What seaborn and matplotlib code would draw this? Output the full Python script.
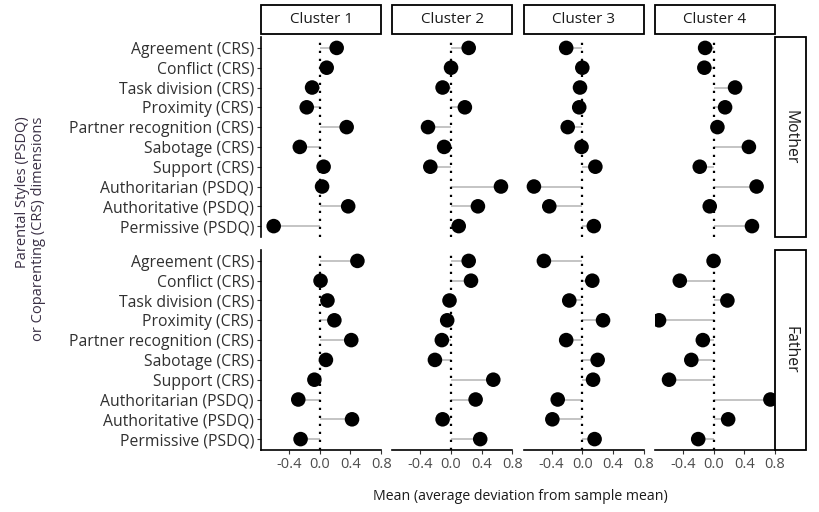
import pandas as pd
import matplotlib.pyplot as plt
import seaborn as sns
from matplotlib.patches import Rectangle

# dimensions shown on the y axis (top to bottom)
dimensions = ['Agreement (CRS)', 'Conflict (CRS)', 'Task division (CRS)', 'Proximity (CRS)',
              'Partner recognition (CRS)', 'Sabotage (CRS)', 'Support (CRS)',
              'Authoritarian (PSDQ)', 'Authoritative (PSDQ)', 'Permissive (PSDQ)']
clusters = ['Cluster 1', 'Cluster 2', 'Cluster 3', 'Cluster 4']
parents = ['Mother', 'Father']

# mean deviation from sample mean
mother_c1 = [0.22, 0.09, -0.10, -0.17, 0.35, -0.26, 0.05, 0.03, 0.37, -0.60]
mother_c2 = [0.23, 0.00, -0.11, 0.18, -0.30, -0.09, -0.27, 0.65, 0.35, 0.10]
mother_c3 = [-0.21, 0.00, -0.03, -0.04, -0.19, -0.01, 0.17, -0.63, -0.43, 0.15]
mother_c4 = [-0.11, -0.12, 0.28, 0.15, 0.05, 0.46, -0.18, 0.56, -0.05, 0.50]
father_c1 = [0.49, 0.01, 0.10, 0.19, 0.41, 0.08, -0.07, -0.28, 0.42, -0.25]
father_c2 = [0.23, 0.26, -0.02, -0.05, -0.12, -0.21, 0.55, 0.32, -0.11, 0.38]
father_c3 = [-0.50, 0.13, -0.17, 0.27, -0.21, 0.20, 0.14, -0.32, -0.39, 0.16]
father_c4 = [0.00, -0.44, 0.18, -0.71, -0.14, -0.29, -0.58, 0.74, 0.19, -0.20]

values = {
    'Mother': [mother_c1, mother_c2, mother_c3, mother_c4],
    'Father': [father_c1, father_c2, father_c3, father_c4],
}

rows = []
for parent in parents:
    for cl, vals in zip(clusters, values[parent]):
        for dim, v in zip(dimensions, vals):
            rows.append({'parent': parent, 'cluster': cl, 'dimension': dim, 'mean': v})
df = pd.DataFrame(rows)

sns.set_theme(style='white')
plt.rcParams['font.family'] = ['Open Sans', 'DejaVu Sans']

fig, axes = plt.subplots(2, 4, figsize=(8.19, 5.12), dpi=100, sharex=True, sharey=True)
fig.subplots_adjust(left=0.3187, right=0.9463, top=0.9277, bottom=0.1211,
                    wspace=0.092, hspace=0.065)

for i, parent in enumerate(parents):
    for j, cl in enumerate(clusters):
        ax = axes[i, j]
        sub = df[(df['parent'] == parent) & (df['cluster'] == cl)]
        ax.hlines(sub['dimension'], 0, sub['mean'], color='#c4c4c4', lw=1.4, zorder=1)
        ax.axvline(0, color='black', ls=(0, (1, 2.6)), lw=1.6, zorder=2)
        sns.scatterplot(data=sub, x='mean', y='dimension', ax=ax, color='black',
                        s=110, edgecolor='none', zorder=3, legend=False)
        ax.set_xlim(-0.765, 0.80)
        ax.set_ylim(9.55, -0.55)
        ax.set_xticks([-0.4, 0.0, 0.4, 0.8])
        ax.set_xticklabels(['-0.4', '0.0', '0.4', '0.8'])
        ax.set_xlabel('')
        ax.set_ylabel('')
        for s in ax.spines.values():
            s.set_visible(False)
        ax.tick_params(axis='x', labelsize=10.5, colors='#4d4d4d', length=3, width=0.8)
        ax.tick_params(axis='y', labelsize=11.3, labelcolor='#303030', length=3, width=0.8)
        if j == 0:
            ax.spines['left'].set_visible(True)
            ax.spines['left'].set_linewidth(1.2)
            ax.spines['left'].set_color('black')
            ax.tick_params(axis='y', left=True, length=3, color='#333333', pad=2)
        else:
            ax.tick_params(axis='y', left=False)
        if i == 1:
            ax.spines['bottom'].set_visible(True)
            ax.spines['bottom'].set_linewidth(1.2)
            ax.spines['bottom'].set_color('black')
            ax.tick_params(axis='x', bottom=True, length=3, color='#333333', pad=2)
        else:
            ax.tick_params(axis='x', bottom=False)
        # facet strips
        if i == 0:
            ax.add_patch(Rectangle((0, 1.015), 1, 0.145, transform=ax.transAxes,
                                   facecolor='white', edgecolor='black', lw=1.3, clip_on=False))
            ax.text(0.5, 1.0875, cl, transform=ax.transAxes, ha='center', va='center',
                    fontsize=11, color='#1a1a1a')
        if j == 3:
            ax.add_patch(Rectangle((1.0, 0), 0.26, 1, transform=ax.transAxes,
                                   facecolor='white', edgecolor='black', lw=1.3, clip_on=False))
            ax.text(1.13, 0.5, parent, transform=ax.transAxes, ha='center', va='center',
                    rotation=-90, fontsize=11.3, color='#1a1a1a')

fig.text(0.037, 0.554, 'Parental Styles (PSDQ)\nor Coparenting (CRS) dimensions',
         rotation=90, ha='center', va='center', multialignment='right',
         fontsize=10.5, color='#3a3045', linespacing=1.05)
fig.text(0.635, 0.031, 'Mean (average deviation from sample mean)', ha='center',
         va='center', fontsize=10.2, color='#1a1a1a')

plt.savefig('out.png', dpi=100)
